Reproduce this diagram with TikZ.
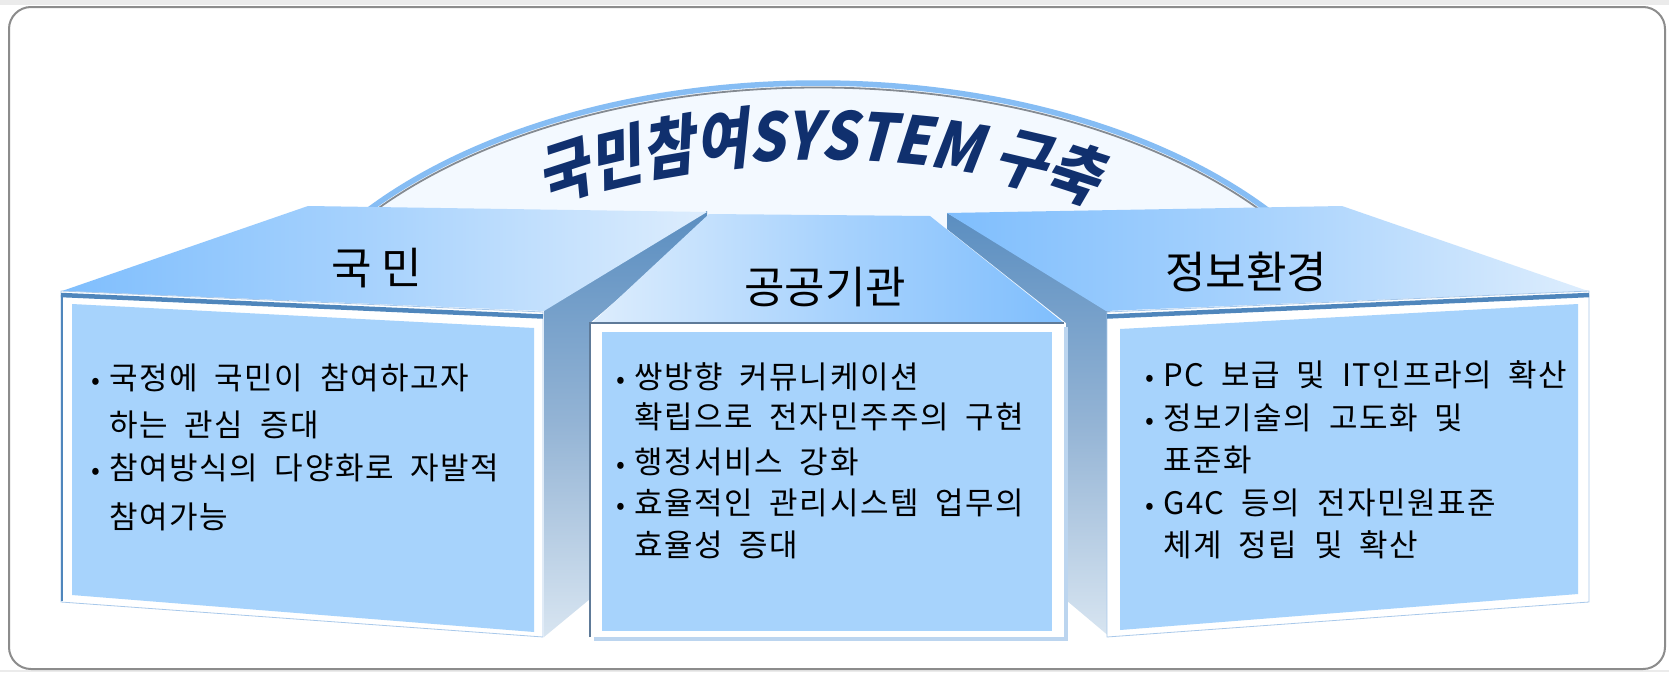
\documentclass[tikz,border=0pt]{standalone}
\usepackage{fontspec}
\usetikzlibrary{decorations.text}
\setmainfont{Noto Sans CJK KR}
\newfontfamily\krbody[WordSpace=2.0,LetterSpace=5]{Noto Sans CJK KR}
\newfontfamily\krhead{Noto Sans CJK KR}
\newfontfamily\krtitle[FakeSlant=0.22,FakeStretch=0.86]{Noto Sans CJK KR}
\newcommand\bodyfont{\krbody\fontsize{31}{36}\selectfont}
\newcommand\headfont{\krhead\fontsize{44}{50}\selectfont}
\newcommand\titlestyle{\krtitle\bfseries\fontsize{66}{72}\selectfont\color{titlenavy}}
\newcommand\bul{\llap{\fontsize{26}{30}\selectfont•\hspace{9pt}}}
\definecolor{topsat}{HTML}{7FBEFD}
\definecolor{topmid}{HTML}{A9D3FD}
\definecolor{toppale}{HTML}{DDEDFD}
\definecolor{sidetop}{HTML}{5B8EC0}
\definecolor{sidemid}{HTML}{94B4D5}
\definecolor{sidebot}{HTML}{D8E5F1}
\definecolor{rimblue}{HTML}{4F86BC}
\definecolor{panel}{HTML}{A7D3FC}
\definecolor{edgeblue}{HTML}{A8C8EA}
\definecolor{frameline}{HTML}{5E7A98}
\definecolor{shadowblue}{HTML}{BCD5EF}
\definecolor{domeblue}{HTML}{86BDF4}
\definecolor{domegray}{HTML}{858B92}
\definecolor{domein}{HTML}{F3F9FF}
\definecolor{domemid}{HTML}{E4F0FD}
\definecolor{domeout}{HTML}{CCE3FA}
\definecolor{titlenavy}{HTML}{10306E}
\definecolor{outerline}{HTML}{8C8C8C}
\pgfdeclareradialshading{domeshade}{\pgfpoint{0bp}{0bp}}{color(0bp)=(domein); color(30bp)=(domein); color(43bp)=(domemid); color(50bp)=(domeout)}
\begin{document}
\begin{tikzpicture}[x=1pt,y=-1pt,
  topA/.style={left color=topsat, right color=toppale, middle color=topmid},
  topB/.style={left color=toppale, right color=topsat, middle color=topmid},
  sideface/.style={top color=sidetop, bottom color=sidebot, middle color=sidemid},
  framequad/.style={fill=white, draw=edgeblue, line width=0.8},
  panelfill/.style={fill=panel},
  rimline/.style={draw=rimblue, line width=4.5},
  body/.style={font=\bodyfont, anchor=base west, inner sep=0pt},
  head/.style={font=\headfont, inner sep=0pt}]
\useasboundingbox (0,0) rectangle (1669,672);
\fill[white] (0,0) rectangle (1669,672);
\fill[black!8] (0,0) rectangle (1669,5);
\fill[black!8] (0,670) rectangle (1669,672);
\draw[outerline, line width=2, rounded corners=22] (9,7) rectangle (1665,669);
% dome
\begin{scope}
  \clip (0,0) rectangle (1669,312);
  \fill[shading=domeshade] (818,410) ellipse [x radius=568, y radius=327];
  \draw[domeblue, line width=5.5] (818,410) ellipse [x radius=568, y radius=327];
  \draw[domegray, line width=1.8] (818,410) ellipse [x radius=563.5, y radius=322.5];
\end{scope}
\path[decorate, decoration={text along path, text={|\titlestyle|국민참여SYSTEM 구축}, text align=center}]
  plot[domain=180:360, samples=120] ({818+480*cos(\x)}, {410+250*sin(\x)});
% side faces
\shade[sideface] (947,213) -- (1110,308) -- (1110,637) -- (1066,600) -- (1066,323) -- (947,229) -- cycle;
\shade[sideface] (707,211) -- (544,308) -- (544,637) -- (590,599) -- (590,323) -- (707,222) -- cycle;
% middle box
\shade[topB] (709,214) -- (930,216) -- (1064,323) -- (592,323) -- cycle;
\fill[shadowblue] (594,327) rectangle (1068,641);
\fill[white] (590,323) rectangle (1064,637);
\draw[frameline, line width=1.5] (590,637) -- (590,323) -- (1064,323);
\fill[panelfill] (602,332) rectangle (1052,631);
% left box
\shade[topA] (62,291) -- (308,206) -- (707,212) -- (544,311) -- cycle;
\filldraw[framequad] (61,291) -- (543,312) -- (543,637) -- (61,602) -- cycle;
\draw[rimline] (61,295) -- (543,316.5);
\draw[rimblue, line width=2] (62,293) -- (62,601);
\fill[panelfill] (72,304) -- (534,328) -- (534,632) -- (72,595) -- cycle;
% right box
\shade[topA] (1106,311) -- (947,213) -- (1342,206) -- (1588,291) -- cycle;
\filldraw[framequad] (1589,291) -- (1107,312) -- (1107,637) -- (1589,602) -- cycle;
\draw[rimline] (1589,295) -- (1107,316.5);
\fill[panelfill] (1578,304) -- (1120,329) -- (1120,630) -- (1578,594) -- cycle;
% headings
\node[head] (h1) at (377,268) {국 민};
\node[head] (h2) at (825,287) {공공기관};
\node[head] (h3) at (1246,272) {정보환경};
% left text
\node[body] (l1) at (109,389) {\bul 국정에 국민이 참여하고자};
\node[body] (l2) at (109,436) {하는 관심 증대};
\node[body] (l3) at (109,479) {\bul 참여방식의 다양화로 자발적};
\node[body] (l4) at (109,528) {참여가능};
% middle text
\node[body] (m1) at (634,388) {\bul 쌍방향 커뮤니케이션};
\node[body] (m2) at (634,428) {확립으로 전자민주주의 구현};
\node[body] (m3) at (634,473) {\bul 행정서비스 강화};
\node[body] (m4) at (634,514) {\bul 효율적인 관리시스템 업무의};
\node[body] (m5) at (634,556) {효율성 증대};
% right text
\node[body] (r1) at (1163,386) {\bul PC 보급 및 IT인프라의 확산};
\node[body] (r2) at (1163,429) {\bul 정보기술의 고도화 및};
\node[body] (r3) at (1163,471) {표준화};
\node[body] (r4) at (1163,514) {\bul G4C 등의 전자민원표준};
\node[body] (r5) at (1163,556) {체계 정립 및 확산};
\end{tikzpicture}
\end{document}
